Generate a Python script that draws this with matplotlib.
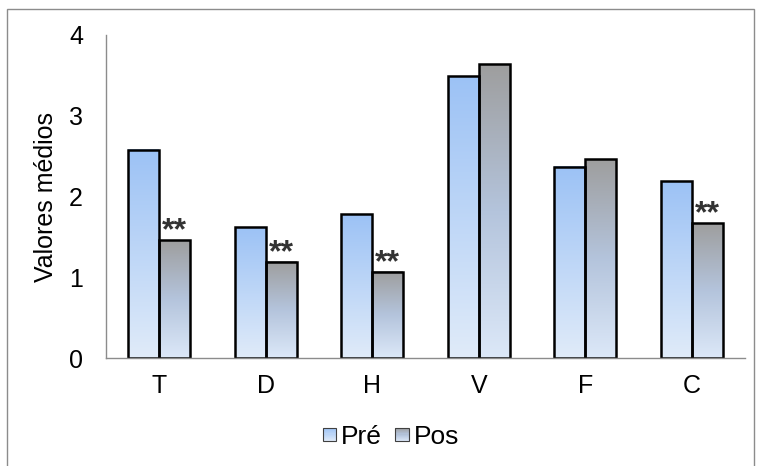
import numpy as np
import matplotlib

matplotlib.use("Agg")
import matplotlib.pyplot as plt
from matplotlib.colors import LinearSegmentedColormap
from matplotlib.patches import Rectangle
from matplotlib.legend_handler import HandlerBase

plt.rcParams["font.family"] = ["Liberation Sans", "DejaVu Sans"]

categories = ["T", "D", "H", "V", "F", "C"]
pre = [2.58, 1.62, 1.78, 3.49, 2.37, 2.19]
pos = [1.46, 1.19, 1.07, 3.64, 2.46, 1.67]
signif = [True, True, True, False, False, True]
series_names = ["Pré", "Pos"]

cmap_pre = LinearSegmentedColormap.from_list("pre", ["#e0ebf9", "#9cc2f5"])
cmap_pos = LinearSegmentedColormap.from_list("pos", ["#dce8f8", "#b4c4dc", "#9e9e9e"])
grad = np.linspace(0, 1, 256).reshape(-1, 1)


def gradient_bar(ax, x0, w, h, cmap):
    ax.imshow(grad, cmap=cmap, origin="lower", aspect="auto",
              extent=(x0, x0 + w, 0, h), zorder=1, interpolation="bicubic")
    ax.add_patch(Rectangle((x0, 0), w, h, fill=False, ec="black", lw=1.8, zorder=2))


class GradHandler(HandlerBase):
    def __init__(self, cmap):
        super().__init__()
        self.cmap = cmap

    def create_artists(self, legend, orig_handle, xdescent, ydescent, width, height, fontsize, trans):
        s = height
        x0 = xdescent + width - s
        arts = []
        n = 12
        for i in range(n):
            c = self.cmap(1 - (i + 0.5) / n)
            r = Rectangle((x0, -ydescent + s - (i + 1) * s / n), s, s / n, fc=c, ec="none", transform=trans)
            arts.append(r)
        arts.append(Rectangle((x0, -ydescent), s, s, fill=False, ec="#404040", lw=0.8, transform=trans))
        return arts


fig = plt.figure(figsize=(7.62, 4.66), dpi=100)
fig.patches.append(Rectangle((7 / 762, -0.01), (754 - 7) / 762, 1 - 9 / 466 + 0.01,
                             transform=fig.transFigure, fill=False, ec="#8c8c8c", lw=1.0))
ax = fig.add_axes([106 / 762, 1 - 358 / 466, (745 - 106) / 762, (358 - 35) / 466])

x = np.arange(len(categories))
w = 0.29
for i in range(len(categories)):
    gradient_bar(ax, x[i] - w, w, pre[i], cmap_pre)
    gradient_bar(ax, x[i], w, pos[i], cmap_pos)
    if signif[i]:
        ax.text(x[i] + w / 2, pos[i] + 0.01, "**", ha="center", va="baseline",
                fontsize=23, fontweight="bold", color="#333333")

ax.set_xlim(-0.5, len(categories) - 0.5)
ax.set_ylim(0, 4)
ax.set_yticks([0, 1, 2, 3, 4])
ax.set_xticks(x)
ax.set_xticklabels(categories)
ax.tick_params(axis="both", length=0, labelsize=18, colors="black")
ax.tick_params(axis="y", pad=16.5)
ax.tick_params(axis="x", pad=11.5)
ax.set_ylabel("Valores médios", fontsize=18, labelpad=8)
for s in ["top", "right"]:
    ax.spines[s].set_visible(False)
for s in ["left", "bottom"]:
    ax.spines[s].set_color("#8c8c8c")
    ax.spines[s].set_linewidth(1.0)

h1 = Rectangle((0, 0), 1, 1)
h2 = Rectangle((0, 0), 1, 1)
fig.legend([h1, h2], series_names, loc="center", bbox_to_anchor=(392 / 762, 1 - 437 / 466),
           ncol=2, frameon=False, fontsize=19, handlelength=0.42, handleheight=0.42,
           handletextpad=0.18, columnspacing=0.6,
           handler_map={h1: GradHandler(cmap_pre), h2: GradHandler(cmap_pos)})

fig.savefig("out.png", dpi=100)
